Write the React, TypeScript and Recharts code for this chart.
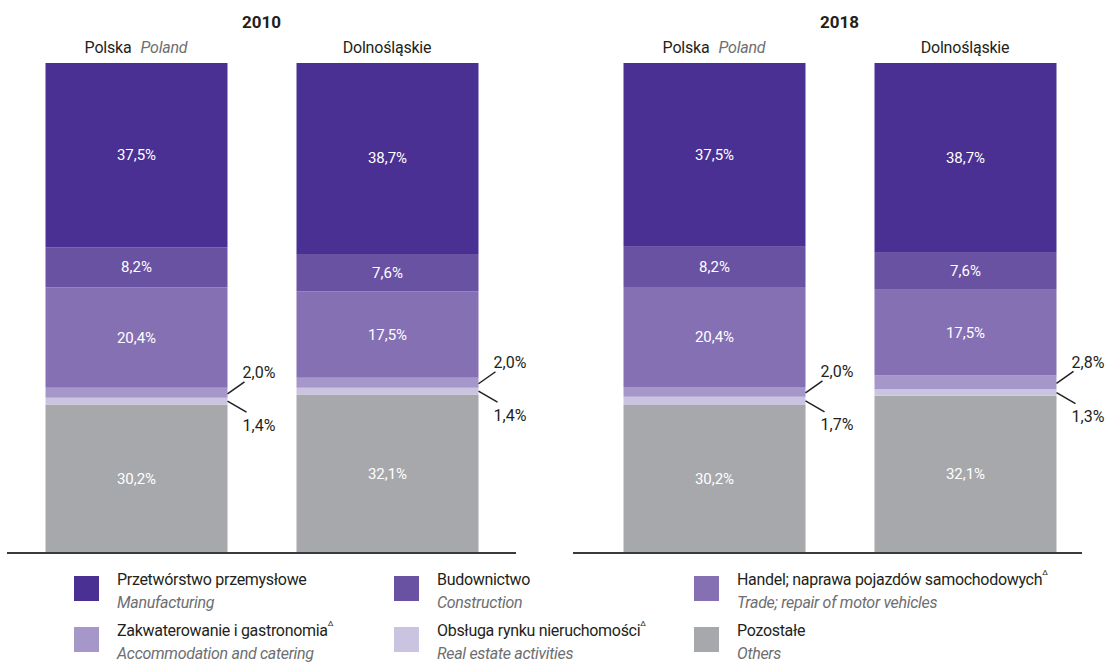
import React from 'react';
import { BarChart, Bar, XAxis, YAxis, LabelList, Customized } from 'recharts';

const regions = ['Polska', 'Dolnośląskie'];
const regionsEn = ['Poland', ''];
const years = ['2010', '2018'];

const manufacturing2010 = [37.5, 38.7];
const construction2010 = [8.2, 7.6];
const trade2010 = [20.4, 17.5];
const accommodation2010 = [2.0, 2.0];
const realEstate2010 = [1.4, 1.4];
const others2010 = [30.2, 32.1];

const manufacturing2018 = [37.5, 38.7];
const construction2018 = [8.2, 7.6];
const trade2018 = [20.4, 17.5];
const accommodation2018 = [2.0, 2.8];
const realEstate2018 = [1.7, 1.3];
const others2018 = [30.2, 32.1];

const FONT = "Roboto, 'Noto Sans', sans-serif";
const TEXT = '#231f20';
const GRAY_TEXT = '#6d6e71';

type Series = { key: string; pl: string; en: string; sup: boolean; color: string; outside: '' | 'up' | 'down' };

// stack order bottom -> top
const SERIES: Series[] = [
  { key: 'others', pl: 'Pozostałe', en: 'Others', sup: false, color: '#a7a8ab', outside: '' },
  { key: 'realEstate', pl: 'Obsługa rynku nieruchomości', en: 'Real estate activities', sup: true, color: '#cbc4e1', outside: 'down' },
  { key: 'accommodation', pl: 'Zakwaterowanie i gastronomia', en: 'Accommodation and catering', sup: true, color: '#a597c9', outside: 'up' },
  { key: 'trade', pl: 'Handel; naprawa pojazdów samochodowych', en: 'Trade; repair of motor vehicles', sup: true, color: '#8670b4', outside: '' },
  { key: 'construction', pl: 'Budownictwo', en: 'Construction', sup: false, color: '#6a52a3', outside: '' },
  { key: 'manufacturing', pl: 'Przetwórstwo przemysłowe', en: 'Manufacturing', sup: false, color: '#4a3093', outside: '' },
];

const LEGEND_ORDER = ['manufacturing', 'construction', 'trade', 'accommodation', 'realEstate', 'others'];

function buildData(vals: Record<string, number[]>) {
  return regions.map((r, i) => {
    const row: Record<string, any> = { region: r, en: regionsEn[i] };
    Object.keys(vals).forEach((k) => (row[k] = vals[k][i]));
    return row;
  });
}

const data2010 = buildData({
  manufacturing: manufacturing2010,
  construction: construction2010,
  trade: trade2010,
  accommodation: accommodation2010,
  realEstate: realEstate2010,
  others: others2010,
});
const data2018 = buildData({
  manufacturing: manufacturing2018,
  construction: construction2018,
  trade: trade2018,
  accommodation: accommodation2018,
  realEstate: realEstate2018,
  others: others2018,
});

const fmt = (v: number) => v.toFixed(1).replace('.', ',') + '%';

const PLOT_W = 509;
const BAND = 251;

function TopTick(props: any) {
  const { x, payload, index, data } = props;
  const en = data[index]?.en;
  return (
    <text x={x} y={53} textAnchor="middle" fontFamily={FONT} fontSize={16} fill={TEXT} letterSpacing={-0.2}>
      <tspan>{payload.value}</tspan>
      {en ? (
        <tspan dx={9} fill={GRAY_TEXT} fontStyle="italic">
          {en}
        </tspan>
      ) : null}
    </text>
  );
}

function makeLabel(s: Series, data: any[]) {
  return (props: any) => {
    const { x, y, width, height, index } = props;
    const raw = data[index][s.key];
    const X = Number(x), Y = Number(y), Wd = Number(width), H = Number(height);
    if (!s.outside) {
      return (
        <text x={X + Wd / 2} y={Y + H / 2} textAnchor="middle" dominantBaseline="central" fontFamily={FONT} fontSize={15} fill="#ffffff">
          {fmt(raw)}
        </text>
      );
    }
    const right = X + Wd;
    const mid = Y + H / 2;
    if (s.outside === 'up') {
      return (
        <g>
          <line x1={right} y1={mid + 1} x2={right + 17} y2={mid - 11} stroke={TEXT} strokeWidth={1.5} />
          <text x={right + 15} y={mid - 20} dominantBaseline="central" fontFamily={FONT} fontSize={16} fill={TEXT}>
            {fmt(raw)}
          </text>
        </g>
      );
    }
    return (
      <g>
        <line x1={right} y1={mid} x2={right + 19} y2={mid + 11} stroke={TEXT} strokeWidth={1.5} />
        <text x={right + 15} y={mid + 24} dominantBaseline="central" fontFamily={FONT} fontSize={16} fill={TEXT}>
          {fmt(raw)}
        </text>
      </g>
    );
  };
}

function Panel({ year, data, left, padL, padR, extra }: { year: string; data: any[]; left: number; padL: number; padR: number; extra: number }) {
  return (
    <div style={{ position: 'absolute', left, top: 0 }}>
      <BarChart
        width={PLOT_W + extra}
        height={563}
        data={data}
        stackOffset="expand"
        barSize={182}
        margin={{ top: 0, right: extra, left: 0, bottom: 0 }}
      >
        <XAxis
          xAxisId="top"
          orientation="top"
          dataKey="region"
          height={63}
          axisLine={false}
          tickLine={false}
          interval={0}
          padding={{ left: padL, right: padR }}
          tick={<TopTick data={data} />}
        />
        <XAxis
          dataKey="region"
          height={10}
          tick={false}
          tickLine={false}
          padding={{ left: padL, right: padR }}
          axisLine={{ stroke: '#3a3a3a', strokeWidth: 2 }}
        />
        <YAxis hide domain={[0, 1]} />
        {SERIES.map((s) => (
          <Bar key={s.key} dataKey={s.key} stackId="a" fill={s.color} isAnimationActive={false}>
            <LabelList dataKey={s.key} content={makeLabel(s, data)} />
          </Bar>
        ))}
        <Customized
          component={() => (
            <text x={padL + BAND} y={22} textAnchor="middle" dominantBaseline="central" fontFamily={FONT} fontWeight="bold" fontSize={17} fill={TEXT}>
              {year}
            </text>
          )}
        />
      </BarChart>
    </div>
  );
}

const LEGEND_COLS = [74, 394, 694];
const LEGEND_ROWS = [576, 627];

function Legend() {
  return (
    <>
      {LEGEND_ORDER.map((k, i) => {
        const s = SERIES.find((x) => x.key === k)!;
        const col = i % 3;
        const row = Math.floor(i / 3);
        return (
          <div key={k} style={{ position: 'absolute', left: LEGEND_COLS[col], top: LEGEND_ROWS[row], display: 'flex', fontFamily: FONT }}>
            <div style={{ width: 25, height: 25, background: s.color }} />
            <div style={{ marginLeft: 18, marginTop: -8, lineHeight: '23px', letterSpacing: -0.3 }}>
              <div style={{ fontSize: 16, color: TEXT, whiteSpace: 'nowrap' }}>
                {s.pl}
                {s.sup ? <sup style={{ fontSize: 8, verticalAlign: 'top', lineHeight: '10px' }}>Δ</sup> : null}
              </div>
              <div style={{ fontSize: 16, color: GRAY_TEXT, fontStyle: 'italic', whiteSpace: 'nowrap' }}>{s.en}</div>
            </div>
          </div>
        );
      })}
    </>
  );
}

export default function App() {
  return (
    <>
      <style>{`html, body { margin: 0; padding: 0; overflow: hidden; }`}</style>
      <div style={{ position: 'relative', width: 1107, height: 662, background: '#fff', overflow: 'hidden' }}>
        <Panel year={years[0]} data={data2010} left={7} padL={3.5} padR={3.5} extra={45} />
        <Panel year={years[1]} data={data2018} left={573} padL={15.5} padR={-8.5} extra={25} />
        <Legend />
      </div>
    </>
  );
}
